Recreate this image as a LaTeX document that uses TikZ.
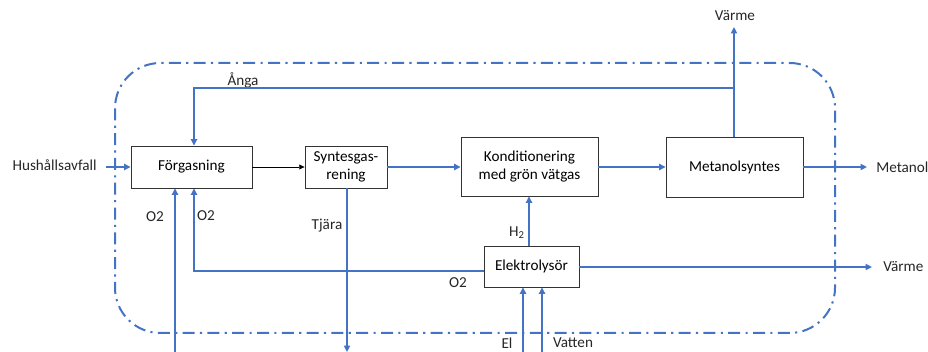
\documentclass[tikz,border=0pt]{standalone}
\usepackage{fontspec}
\setmainfont{Carlito}
\usetikzlibrary{arrows.meta}
\definecolor{flow}{RGB}{68,114,196}
\begin{document}
\begin{tikzpicture}[x=0.75pt,y=-0.75pt,
  font=\fontsize{11.4}{13.2}\selectfont,
  box/.style={draw=black!80,line width=0.6pt,fill=white,inner sep=0pt,align=center},
  bl/.style={draw=flow,line width=1.5pt,-{Triangle[length=4.8pt,width=4.6pt]}},
  lbl/.style={inner sep=0pt,text=black!85}]
\useasboundingbox (0,0) rectangle (928,352);
% system boundary
\draw[flow,line width=1.5pt,dash pattern=on 9pt off 4pt on 1.6pt off 4pt,rounded corners=34pt]
  (115,63) rectangle (835,333);
% boxes
\node[box,minimum width=90.75pt,minimum height=31.5pt] (forg) at (191.5,167) {Förgasning};
\node[box,minimum width=61.5pt,minimum height=31.5pt] (synt) at (346,167) {Syntesgas-\\rening};
\node[box,minimum width=102.75pt,minimum height=44.25pt] (kond) at (529.5,166.5) {Konditionering\\med grön vätgas};
\node[box,minimum width=102.75pt,minimum height=45pt] (meta) at (734.5,167) {Metanolsyntes};
\node[box,minimum width=71.25pt,minimum height=30.75pt] (elek) at (531.5,266.5) {Elektrolysör};
% coordinates
\coordinate (inL) at (106,167);
\coordinate (metOut) at (867,167);
\coordinate (varmeTop) at (734,27);
\coordinate (angaJ) at (734,88);
\coordinate (angaC) at (194,88);
\coordinate (o2C) at (194,271);
\coordinate (o2Bot) at (175,352);
\coordinate (tjBot) at (347,352);
\coordinate (h2x) at (529,0);
\coordinate (elBot) at (523,352);
\coordinate (vaBot) at (542,352);
\coordinate (varmeR) at (872,267);
% texts
\node[lbl,anchor=east] (hush) at (97,165) {Hushållsavfall};
\node[lbl,anchor=west] (metanol) at (876,167) {Metanol};
\node[lbl] (varme1) at (735,16) {Värme};
\node[lbl,anchor=west] (varme2) at (883,267) {Värme};
\node[lbl] (anga) at (243,80) {Ånga};
\node[lbl] (o2a) at (155,217) {O2};
\node[lbl] (o2b) at (206,216) {O2};
\node[lbl] (o2c) at (458,283) {O2};
\node[lbl] (tjara) at (327,226) {Tjära};
\node[lbl] (h2) at (517,233) {H\textsubscript{2}};
\node[lbl] (el) at (507,343) {El};
\node[lbl] (vatten) at (573,343) {Vatten};
% connectors
\draw[bl] (inL) -- (forg.west);
\draw[draw=black,line width=0.6pt,-{Triangle[length=4pt,width=3.6pt]}] (forg.east) -- (synt.west);
\draw[bl] (synt.east) -- (kond.west |- synt.east);
\draw[bl] (kond.east |- meta.west) -- (meta.west);
\draw[bl] (meta.east) -- (metOut);
\draw[bl] (meta.north -| varmeTop) -- (varmeTop);
\draw[bl] (angaJ) -- (angaC) -- (angaC |- forg.north);
\draw[bl] (o2Bot) -- (o2Bot |- forg.south);
\draw[bl] (elek.west |- o2C) -- (o2C) -- (o2C |- forg.south);
\draw[bl] (synt.south -| tjBot) -- (tjBot);
\draw[bl] (elek.north -| h2x) -- (h2x |- kond.south);
\draw[bl] (elBot) -- (elBot |- elek.south);
\draw[bl] (vaBot) -- (vaBot |- elek.south);
\draw[bl] (elek.east |- varmeR) -- (varmeR);
\end{tikzpicture}
\end{document}
